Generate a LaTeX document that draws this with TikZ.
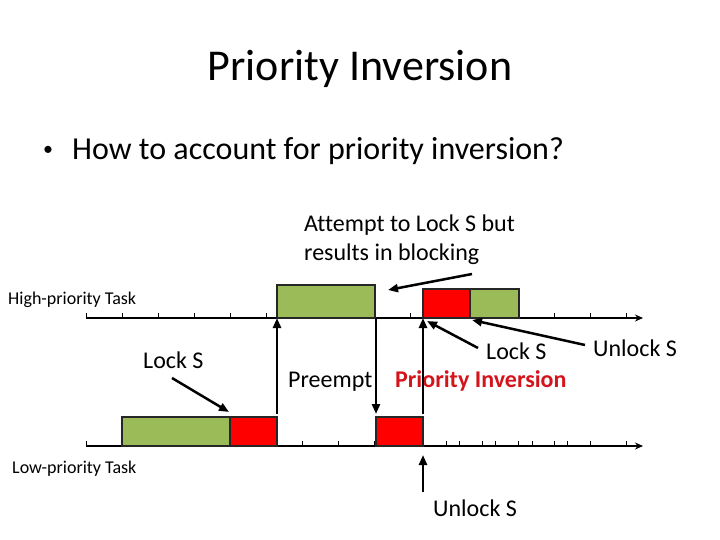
\documentclass[tikz,border=0pt]{standalone}
\usepackage{fontspec}
\setmainfont[Ligatures=NoCommon]{Carlito}
\usetikzlibrary{arrows.meta}

\definecolor{runGreen}{RGB}{155,187,89}
\definecolor{lockRed}{RGB}{255,0,0}
\definecolor{alertRed}{RGB}{212,20,28}

\begin{document}
\begin{tikzpicture}[x=1pt, y=-1pt,
	pointer/.style={-{Triangle[length=10pt,width=8pt]}, line width=2.5pt},
	axis/.style={-{Stealth[length=8pt,width=7pt]}, line width=1.3pt},
	job/.style={draw=black!85, line width=1.6pt},
	lbl/.style={anchor=base west, inner sep=0pt, font=\fontsize{24}{28}\selectfont},
	small/.style={anchor=base west, inner sep=0pt, font=\fontsize{18}{22}\selectfont}]
	\useasboundingbox (0,0) rectangle (720,540);

	% heading and question
	\node[anchor=base, inner sep=0pt, font=\fontsize{44}{52}\selectfont] (title) at (360,81) {Priority Inversion};
	\node[anchor=base west, inner sep=0pt, font=\fontsize{20}{24}\selectfont] (bullet) at (43,156) {•};
	\node[anchor=base west, inner sep=0pt, font=\fontsize{32}{38}\selectfont] (question) at (72,160) {How to account for priority inversion?};

	% time lines
	\coordinate (hstart) at (86,318);
	\coordinate (hend) at (643,318);
	\coordinate (lstart) at (86,446);
	\coordinate (lend) at (643,446);
	\draw[axis] (hstart) -- (hend);
	\draw[axis] (lstart) -- (lend);
	\foreach \k in {0,...,15} {
		\draw[line width=0.8pt] (86+36*\k,318) -- ++(0,-5);
		\draw[line width=0.8pt] (86+36*\k,446) -- ++(0,-5);
	}
	\foreach \t in {459,495,532,567}
		\draw[line width=0.8pt] (\t,446) -- ++(0,-5);

	\node[small] (hightask) at (8,304) {High-priority Task};
	\node[small] (lowtask) at (12,473) {Low-priority Task};

	% jobs
	\draw[job, fill=runGreen] (277,285) rectangle (375,318);
	\draw[job, fill=lockRed] (423,289) rectangle (470,318);
	\draw[job, fill=runGreen] (470,289) rectangle (519,318);
	\draw[job, fill=runGreen] (122,417) rectangle (230,446);
	\draw[job, fill=lockRed] (230,417) rectangle (277,446);
	\draw[job, fill=lockRed] (376,417) rectangle (423,446);

	\node[lbl] (attempt) at (304,231) {Attempt to Lock S but};
	\node[lbl] (attemptb) at (304,260) {results in blocking};
	\node[lbl] (locklow) at (143,368) {Lock S};
	\node[lbl] (preempt) at (288,387) {Preempt};
	\node[lbl] (lockhigh) at (486,359) {Lock S};
	\node[lbl, font=\fontsize{24}{28}\selectfont\bfseries, text=alertRed] (inversion) at (395,387) {Priority Inversion};
	\node[lbl] (unlockhigh) at (593,356) {Unlock S};
	\node[lbl] (unlocklow) at (433,516) {Unlock S};

	% events
	\coordinate (arrive) at (277,318);
	\coordinate (arrivelow) at (277,414);
	\coordinate (block) at (376,318);
	\coordinate (blocklow) at (376,414);
	\coordinate (resume) at (423,318);
	\coordinate (resumelow) at (423,414);
	\draw[pointer] (arrivelow) -- (arrive);
	\draw[pointer] (block) -- (blocklow);
	\draw[pointer] (resumelow) -- (resume);

	\draw[pointer] (472,274) -- (388,290);
	\draw[pointer] (172,378) -- (229,412);
	\draw[pointer] (478,348) -- (427,321);
	\draw[pointer] (585,345) -- (472,320);
	\draw[pointer] (423,492) -- (423,455);
\end{tikzpicture}
\end{document}
